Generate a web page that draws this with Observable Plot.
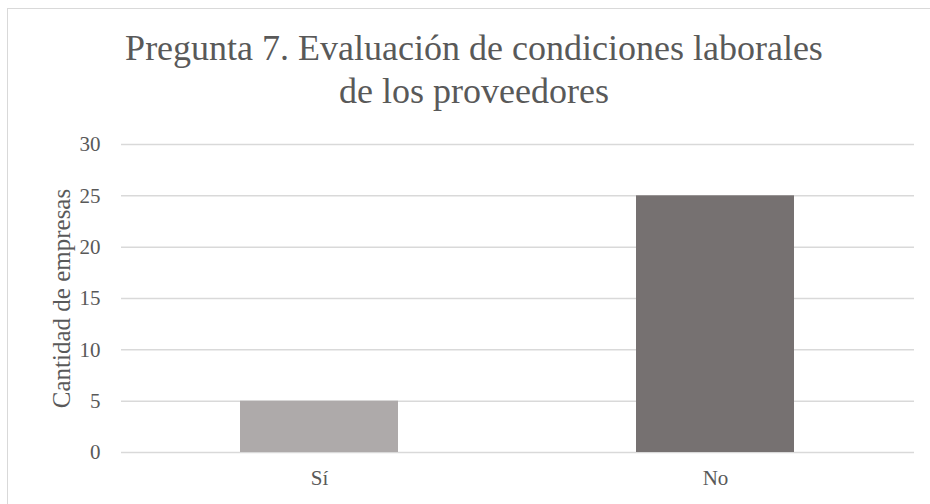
<!DOCTYPE html>
<html>
<head>
<meta charset="utf-8">
<script src="https://cdn.jsdelivr.net/npm/d3@7"></script>
<script src="https://cdn.jsdelivr.net/npm/@observablehq/plot@0.6"></script>
<style>
  html, body { margin: 0; padding: 0; background: #fff; }
  #wrap { position: relative; width: 930px; height: 504px; overflow: hidden; font-family: "Liberation Serif", Tinos, "Times New Roman", "DejaVu Serif", serif; }
  #frame { position: absolute; left: 7px; top: 8px; width: 1000px; height: 1000px; border-left: 1.5px solid #D9D9D9; border-top: 1.5px solid #D9D9D9; box-sizing: border-box; }
  .title { position: absolute; left: 24px; width: 900px; text-align: center; font-size: 36px; color: #595959; line-height: 1; white-space: nowrap; }
  #chart { position: absolute; left: 0; top: 0; }
  #chart svg text { font-family: "Liberation Serif", Tinos, "Times New Roman", "DejaVu Serif", serif; }
</style>
</head>
<body>
<div id="wrap">
  <div id="frame"></div>
  <div class="title" id="t1" style="top:30px">Pregunta 7. Evaluación de condiciones laborales</div>
  <div class="title" id="t2" style="top:73px">de los proveedores</div>
  <div id="chart"></div>
</div>
<script>
const categories = ["Sí", "No"];
const values = [5, 25];
const barColors = ["#AEAAAA", "#767171"];
const yTicks = [0, 5, 10, 15, 20, 25, 30];
const yLabel = "Cantidad de empresas";

const data = categories.map((c, i) => ({category: c, value: values[i]}));

const chart = Plot.plot({
  width: 930,
  height: 504,
  marginLeft: 121,
  marginRight: 16,
  marginTop: 144,
  marginBottom: 52,
  style: {fontFamily: '"Liberation Serif", Tinos, "Times New Roman", "DejaVu Serif", serif', color: "#595959", background: "transparent"},
  x: {domain: categories, paddingInner: 0.6, paddingOuter: 0.3},
  y: {domain: [0, 30]},
  color: {domain: categories, range: barColors},
  marks: [
    Plot.ruleY(yTicks, {stroke: "#D9D9D9", strokeWidth: 1.5}),
    Plot.barY(data, {x: "category", y: "value", fill: "category"}),
    Plot.axisY(yTicks, {tickSize: 0, tickPadding: 21, fontSize: 21, fill: "#595959", label: null}),
    Plot.axisX({tickSize: 0, tickPadding: 18, fontSize: 21, fill: "#595959", label: null}),
    Plot.text([yLabel], {frameAnchor: "left", dx: -60, rotate: -90, textAnchor: "middle", text: d => d, fontSize: 25, fill: "#595959"})
  ]
});
document.getElementById("chart").appendChild(chart);
</script>
</body>
</html>
